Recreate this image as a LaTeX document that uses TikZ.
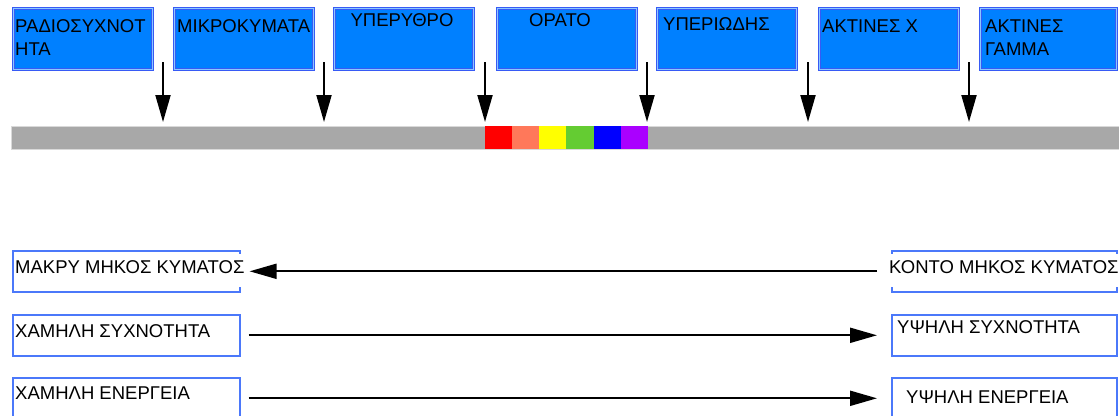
\documentclass[tikz,border=0pt]{standalone}
\usepackage{fontspec}
\setmainfont{Liberation Sans}
\usetikzlibrary{arrows.meta}

\definecolor{bandblue}{RGB}{0,128,255}
\definecolor{bandedge}{RGB}{55,90,245}
\definecolor{bandlight}{RGB}{140,200,255}
\definecolor{endblue}{RGB}{75,120,250}
\definecolor{bargray}{RGB}{168,168,168}
\definecolor{specred}{RGB}{255,0,0}
\definecolor{specsalmon}{RGB}{255,120,90}
\definecolor{specyellow}{RGB}{255,255,0}
\definecolor{specgreen}{RGB}{100,204,50}
\definecolor{specblue}{RGB}{0,0,255}
\definecolor{specviolet}{RGB}{170,0,255}

\begin{document}
\begin{tikzpicture}[x=1pt, y=-1pt,
    band/.style={rectangle, draw=bandedge, line width=1pt, double=bandlight, double distance=1.6pt, fill=bandblue, minimum width=139pt, minimum height=61pt, anchor=north west, inner sep=0pt},
    bandtext/.style={anchor=base west, inner sep=0pt, align=left, font=\fontsize{18.5}{23}\selectfont},
    specbar/.style={rectangle, fill=bargray, draw=gray!30, minimum width=1108pt, minimum height=23pt, anchor=north west, inner sep=0pt},
    endbox/.style={rectangle, draw=endblue, line width=1.6pt, fill=white, minimum width=227pt, minimum height=41pt, anchor=north west, inner sep=0pt},
    over/.style={fill=white, inner ysep=6pt, text depth=8pt},
    pointer/.style={line width=2pt, -{Triangle[length=27pt, width=15pt]}}
]
    \useasboundingbox (0,0) rectangle (1119,415);
    \clip (0,0) rectangle (1119,415);

    % Bands
    \node[band] (radio) at (13,8) {};
    \node[band] (micro) at (174,8) {};
    \node[band] (infra) at (334,8) {};
    \node[band] (visible) at (497,8) {};
    \node[band] (ultra) at (657,8) {};
    \node[band] (xray) at (819,8) {};
    \node[band, minimum width=136pt] (gamma) at (980,8) {};

    % Band labels (two-line ones sit on their last line)
    \node[bandtext] (radio-t) at (15,55) {ΡΑΔΙΟΣΥΧΝΟΤ\\ΗΤΑ};
    \node[bandtext] (micro-t) at (177,32) {ΜΙΚΡΟΚΥΜΑΤΑ};
    \node[bandtext, anchor=base] (infra-t) at (402,27) {ΥΠΕΡΥΘΡΟ};
    \node[bandtext, anchor=base] (visible-t) at (560,27) {ΟΡΑΤΟ};
    \node[bandtext] (ultra-t) at (663,30) {ΥΠΕΡΙΩΔΗΣ};
    \node[bandtext] (xray-t) at (822,32) {ΑΚΤΙΝΕΣ Χ};
    \node[bandtext] (gamma-t) at (985,55) {ΑΚΤΙΝΕΣ\\ΓΑΜΜΑ};

    % Spectrum bar
    \node[specbar] (bar) at (11,126) {};
    \fill[specred] (485,126) rectangle (512,149);
    \fill[specsalmon] (512,126) rectangle (539,149);
    \fill[specyellow] (539,126) rectangle (566,149);
    \fill[specgreen] (566,126) rectangle (594,149);
    \fill[specblue] (594,126) rectangle (621,149);
    \fill[specviolet] (621,126) rectangle (648,149);

    % Borders between bands
    \coordinate (p1) at (163,62);
    \coordinate (p2) at (324,62);
    \coordinate (p3) at (485,62);
    \coordinate (p4) at (647,62);
    \coordinate (p5) at (808,62);
    \coordinate (p6) at (969,62);
    \draw[pointer, shorten >=4pt] (p1) -- (p1 |- bar.north);
    \draw[pointer, shorten >=4pt] (p2) -- (p2 |- bar.north);
    \draw[pointer, shorten >=4pt] (p3) -- (p3 |- bar.north);
    \draw[pointer, shorten >=4pt] (p4) -- (p4 |- bar.north);
    \draw[pointer, shorten >=4pt] (p5) -- (p5 |- bar.north);
    \draw[pointer, shorten >=4pt] (p6) -- (p6 |- bar.north);

    % Ends of the scale
    \node[endbox] (longwave) at (12,250) {};
    \node[endbox] (lowfreq) at (12,314) {};
    \node[endbox] (lowenergy) at (12,377) {};
    \node[endbox, minimum width=225pt] (shortwave) at (891,250) {};
    \node[endbox, minimum width=225pt] (highfreq) at (891,314) {};
    \node[endbox, minimum width=225pt] (highenergy) at (891,377) {};

    \node[bandtext, over] (longwave-t) at (15,273) {ΜΑΚΡΥ ΜΗΚΟΣ ΚΥΜΑΤΟΣ};
    \node[bandtext] (lowfreq-t) at (15,337) {ΧΑΜΗΛΗ ΣΥΧΝΟΤΗΤΑ};
    \node[bandtext] (lowenergy-t) at (15,399) {ΧΑΜΗΛΗ ΕΝΕΡΓΕΙΑ};
    \node[bandtext, over] (shortwave-t) at (889,273) {ΚΟΝΤΟ ΜΗΚΟΣ ΚΥΜΑΤΟΣ};
    \node[bandtext] (highfreq-t) at (897,333) {ΥΨΗΛΗ ΣΥΧΝΟΤΗΤΑ};
    \node[bandtext] (highenergy-t) at (906,403) {ΥΨΗΛΗ ΕΝΕΡΓΕΙΑ};

    \draw[pointer, shorten <=14pt, shorten >=9pt] (shortwave.west) -- (longwave.east);
    \draw[pointer, shorten <=8pt, shorten >=14pt] (lowfreq.east) -- (highfreq.west);
    \draw[pointer, shorten <=8pt, shorten >=14pt] (lowenergy.east) -- (highenergy.west);

\end{tikzpicture}
\end{document}
